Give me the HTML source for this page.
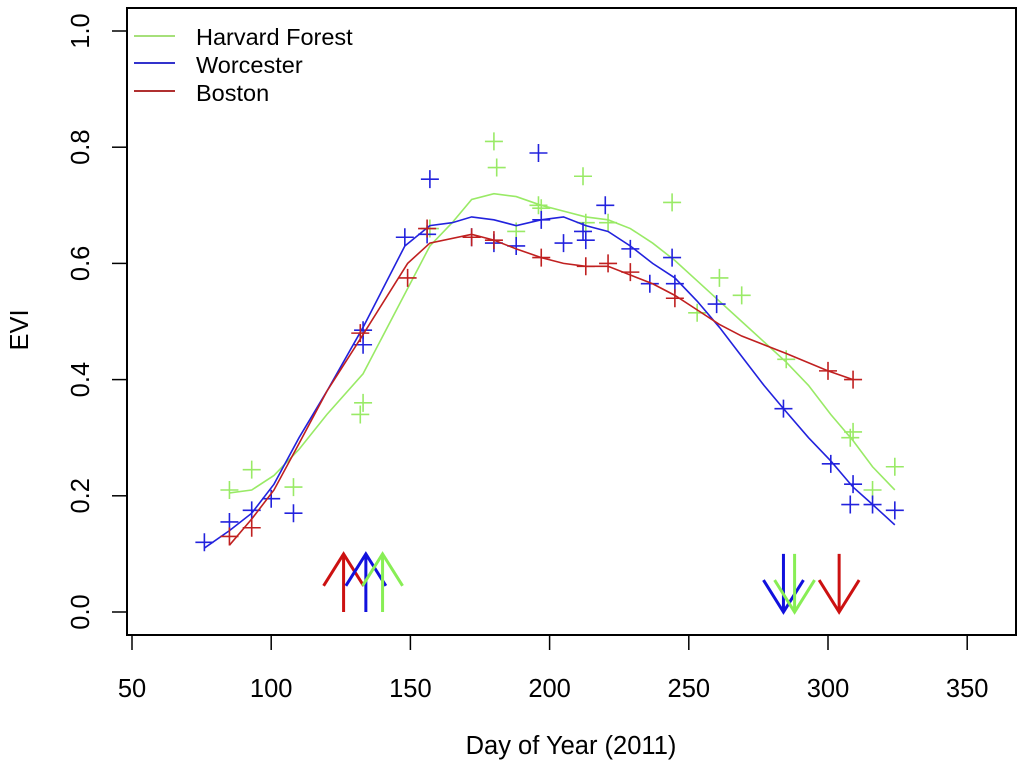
<!DOCTYPE html>
<html><head><meta charset="utf-8"><style>
body{margin:0;background:#fff}
svg text{font-family:"Liberation Sans",sans-serif;fill:#000}
</style></head><body>
<svg id="chart" width="1024" height="763" xmlns="http://www.w3.org/2000/svg">
<rect x="127" y="8" width="889" height="627" fill="none" stroke="#000" stroke-width="2"/>
<g id="axes"></g><g id="series"></g><g id="arrows"></g>
<g>
<line x1="134" y1="36" x2="175" y2="36" stroke="#a6e07a" stroke-width="2"/>
<text x="196" y="45" font-size="23.5">Harvard Forest</text>
<line x1="134" y1="63" x2="175" y2="63" stroke="#3333cc" stroke-width="2"/>
<text x="196" y="73" font-size="23.5">Worcester</text>
<line x1="134" y1="91" x2="175" y2="91" stroke="#b03030" stroke-width="2"/>
<text x="196" y="101" font-size="23.5">Boston</text>
</g>
<text x="571" y="754" font-size="25.5" text-anchor="middle">Day of Year (2011)</text>
<text transform="translate(28,330) rotate(-90)" font-size="25.5" text-anchor="middle">EVI</text>
</svg>
<script>
const xTicks=[50,100,150,200,250,300,350];
const yTicks=[0,0.2,0.4,0.6,0.8,1.0];
const yTickLabels=["0.0","0.2","0.4","0.6","0.8","1.0"];
const hfDays=[85,93,108,132,133,157,180,181,188,196,197,212,213,221,244,253,261,269,285,308,309,316,324];
const hfEvi=[0.21,0.245,0.215,0.34,0.36,0.66,0.81,0.765,0.655,0.70,0.695,0.75,0.67,0.67,0.705,0.515,0.575,0.545,0.435,0.30,0.31,0.21,0.25];
const woDays=[76,85,93,100,108,133,133,148,156,157,172,180,188,196,197,205,212,213,220,229,236,244,245,260,284,301,308,309,316,324];
const woEvi=[0.12,0.155,0.175,0.195,0.17,0.46,0.485,0.645,0.65,0.745,0.645,0.635,0.63,0.79,0.675,0.635,0.655,0.64,0.70,0.625,0.565,0.61,0.565,0.53,0.35,0.255,0.185,0.22,0.185,0.175];
const boDays=[85,93,132,149,156,172,180,197,213,221,229,245,300,309];
const boEvi=[0.13,0.145,0.48,0.575,0.66,0.645,0.64,0.61,0.595,0.60,0.585,0.54,0.415,0.40];
const hfFitDays=[85,93,101,110,120,133,145,157,165,172,180,188,197,205,213,221,229,237,245,253,261,269,277,285,293,301,309,316,324];
const hfFit=[0.205,0.21,0.235,0.28,0.34,0.41,0.52,0.63,0.67,0.71,0.72,0.715,0.70,0.69,0.68,0.675,0.66,0.635,0.605,0.57,0.535,0.50,0.465,0.43,0.39,0.34,0.295,0.25,0.21];
const woFitDays=[76,85,93,101,110,120,133,148,157,165,172,180,188,197,205,213,221,229,237,245,253,261,269,277,284,293,301,309,316,324];
const woFit=[0.11,0.14,0.17,0.22,0.30,0.38,0.49,0.63,0.665,0.67,0.68,0.675,0.665,0.675,0.68,0.665,0.655,0.63,0.60,0.575,0.535,0.49,0.44,0.39,0.35,0.30,0.26,0.215,0.185,0.15];
const boFitDays=[85,93,101,110,120,132,149,157,172,180,188,197,205,213,221,229,237,245,253,261,269,285,300,309];
const boFit=[0.115,0.16,0.21,0.29,0.38,0.47,0.60,0.635,0.65,0.64,0.625,0.61,0.60,0.595,0.595,0.58,0.565,0.545,0.52,0.495,0.475,0.445,0.415,0.40];
const upDays=[126,134,140];
const downDays=[284,288,304];
const upColors=["#cc1111","#1111dd","#88ee55"];
const downColors=["#1111dd","#88ee55","#cc1111"];
const NS="http://www.w3.org/2000/svg";
const X=d=>132+(d-50)*2.784;
const Y=v=>612-v*581;
function mk(tag,attrs,parent){const e=document.createElementNS(NS,tag);for(const k in attrs)e.setAttribute(k,attrs[k]);parent.appendChild(e);return e;}
const axes=document.getElementById('axes');
xTicks.forEach(t=>{
 const l=mk('line',{x1:X(t),x2:X(t),y1:635,y2:650,stroke:'#000','stroke-width':1.5},axes);
 
 
 const tx=mk('text',{x:X(t),y:697,'font-size':25.5,'text-anchor':'middle'},axes);tx.textContent=t;
 
 
});
yTicks.forEach((t,i)=>{
 const l=mk('line',{x1:112,x2:127,y1:Y(t),y2:Y(t),stroke:'#000','stroke-width':1.5},axes);
 
 
 const tx=mk('text',{transform:`translate(89,${Y(t)}) rotate(-90)`,'font-size':25.5,'text-anchor':'middle'},axes);tx.textContent=yTickLabels[i];
 
 
});
const series=document.getElementById('series');
function drawSeries(days,vals,fd,fv,color,name){
 const p=mk('polyline',{points:fd.map((d,i)=>X(d)+','+Y(fv[i])).join(' '),fill:'none',stroke:color,'stroke-width':1.6},series);
 
 
 days.forEach((d,i)=>{
  const cx=X(d),cy=Y(vals[i]);
  const pt=mk('path',{d:`M${cx-9},${cy}H${cx+9}M${cx},${cy-9}V${cy+9}`,stroke:color,'stroke-width':1.6},series);
  
  
 });
}
drawSeries(hfDays,hfEvi,hfFitDays,hfFit,'#99ea66','harvard-forest');
drawSeries(woDays,woEvi,woFitDays,woFit,'#2222dd','worcester');
drawSeries(boDays,boEvi,boFitDays,boFit,'#c02020','boston');
const arrows=document.getElementById('arrows');
upDays.forEach((d,i)=>{
 const x=X(d),y0=Y(0),y1=Y(0.10),yh=Y(0.045);
 const a=mk('path',{d:`M${x},${y0}V${y1}M${x-20},${yh}L${x},${y1}L${x+20},${yh}`,fill:'none',stroke:upColors[i],'stroke-width':3},arrows);
 
 
});
downDays.forEach((d,i)=>{
 const x=X(d),y0=Y(0),y1=Y(0.10),yh=Y(0.055);
 const a=mk('path',{d:`M${x},${y1}V${y0}M${x-20},${yh}L${x},${y0}L${x+20},${yh}`,fill:'none',stroke:downColors[i],'stroke-width':3},arrows);
 
 
});
</script>
</body></html>
